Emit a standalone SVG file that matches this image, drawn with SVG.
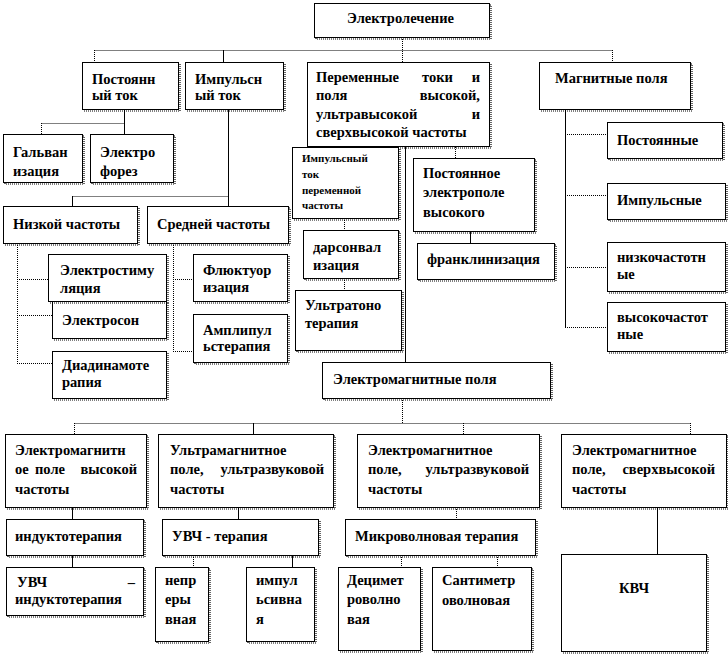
<svg xmlns="http://www.w3.org/2000/svg" width="728" height="663" viewBox="0 0 728 663">
<style>
.bx{fill:#fff;stroke:#000;stroke-width:1}
.sh{fill:none;stroke:#000;stroke-width:1.2;stroke-dasharray:1 1;transform:translate(1.5px,1.5px)}
text{font-family:"Liberation Serif","Times New Roman",serif;font-weight:bold;font-size:14.5px;fill:#000}
.s{font-size:11px}
.e{text-anchor:end}
.m{text-anchor:middle}
#connectors line{stroke:#000;stroke-width:1}
#connectors line.d{stroke-dasharray:1 1}
#connectors line.g{stroke:#777}
</style>
<rect width="728" height="663" fill="#fff"/>
<g id="connectors">
<line class="d" x1="402.5" y1="37" x2="402.5" y2="62"/>
<line class="d" x1="94.5" y1="50.5" x2="612.5" y2="50.5"/>
<line class="d" x1="94.5" y1="50" x2="94.5" y2="62"/>
<line class="d" x1="612.5" y1="50" x2="612.5" y2="62"/>
<line x1="223.5" y1="50" x2="223.5" y2="62"/>
<line x1="124.5" y1="110" x2="124.5" y2="134"/>
<line class="d" x1="41.5" y1="123.5" x2="124.5" y2="123.5"/>
<line class="d" x1="41.5" y1="123" x2="41.5" y2="134"/>
<line x1="228.5" y1="110" x2="228.5" y2="206"/>
<line class="d" x1="72.5" y1="196.5" x2="228.5" y2="196.5"/>
<line x1="72.5" y1="196" x2="72.5" y2="206"/>
<line class="d" x1="17.5" y1="243" x2="17.5" y2="363.5"/>
<line class="d" x1="17" y1="279.5" x2="48" y2="279.5"/>
<line class="d" x1="17" y1="315.5" x2="52" y2="315.5"/>
<line class="d" x1="17" y1="363.5" x2="52" y2="363.5"/>
<line class="d" x1="173.5" y1="243" x2="173.5" y2="351.5"/>
<line class="d" x1="173" y1="279.5" x2="193" y2="279.5"/>
<line class="d" x1="173" y1="351.5" x2="193" y2="351.5"/>
<line class="g" x1="344.5" y1="147" x2="344.5" y2="157"/>
<line class="d" x1="344.5" y1="218" x2="344.5" y2="230"/>
<line class="d" x1="344.5" y1="278" x2="344.5" y2="290"/>
<line class="d" x1="455.5" y1="147" x2="455.5" y2="158"/>
<line x1="470.5" y1="231" x2="470.5" y2="243"/>
<line x1="405.5" y1="147" x2="405.5" y2="362"/>
<line x1="565.5" y1="110" x2="565.5" y2="327.5"/>
<line class="d" x1="565" y1="134.5" x2="607" y2="134.5"/>
<line class="d" x1="565" y1="195.5" x2="607" y2="195.5"/>
<line class="d" x1="565" y1="267.5" x2="607" y2="267.5"/>
<line class="d" x1="565" y1="327.5" x2="607" y2="327.5"/>
<line class="d" x1="402.5" y1="398" x2="402.5" y2="423"/>
<line class="d" x1="74.5" y1="423.5" x2="690.5" y2="423.5"/>
<line class="d" x1="74.5" y1="423" x2="74.5" y2="434"/>
<line x1="253.5" y1="423" x2="253.5" y2="434"/>
<line class="d" x1="463.5" y1="423" x2="463.5" y2="434"/>
<line class="d" x1="690.5" y1="423" x2="690.5" y2="434"/>
<line x1="72.5" y1="507" x2="72.5" y2="519"/>
<line x1="72.5" y1="555" x2="72.5" y2="567"/>
<line x1="238.5" y1="507" x2="238.5" y2="519"/>
<line class="d" x1="193.5" y1="555" x2="193.5" y2="567"/>
<line x1="292.5" y1="555" x2="292.5" y2="567"/>
<line class="d" x1="456.5" y1="507" x2="456.5" y2="519"/>
<line class="d" x1="401.5" y1="555" x2="401.5" y2="567"/>
<line class="d" x1="497.5" y1="555" x2="497.5" y2="567"/>
<line x1="657.5" y1="507" x2="657.5" y2="554"/>
</g>

<g id="n-root"><rect class="sh" x="314.5" y="3.5" width="175" height="34"/><rect class="bx" x="314.5" y="3.5" width="175" height="34"/><text x="347" y="23">Электролечение</text></g>

<g id="n-dc"><rect class="sh" x="82.5" y="62.5" width="96" height="47"/><rect class="bx" x="82.5" y="62.5" width="96" height="47"/><text x="92" y="84">Постоянн</text><text x="92" y="100">ый ток</text></g>
<g id="n-pulse"><rect class="sh" x="185.5" y="62.5" width="98" height="47"/><rect class="bx" x="185.5" y="62.5" width="98" height="47"/><text x="195" y="84">Импульсн</text><text x="195" y="100">ый ток</text></g>
<g id="n-ac"><rect class="sh" x="307.5" y="62.5" width="182" height="84"/><rect class="bx" x="307.5" y="62.5" width="182" height="84"/>
<text x="316" y="82">Переменные</text><text x="422" y="82">токи</text><text class="e" x="480" y="82">и</text>
<text x="316" y="100">поля</text><text class="e" x="480" y="100">высокой,</text>
<text x="316" y="119">ультравысокой</text><text class="e" x="480" y="119">и</text>
<text x="316" y="137">сверхвысокой частоты</text></g>
<g id="n-mag"><rect class="sh" x="539.5" y="62.5" width="151" height="47"/><rect class="bx" x="539.5" y="62.5" width="151" height="47"/><text x="555" y="83">Магнитные поля</text></g>

<g id="n-galv"><rect class="sh" x="3.5" y="134.5" width="79" height="48"/><rect class="bx" x="3.5" y="134.5" width="79" height="48"/><text x="13" y="157">Гальван</text><text x="13" y="176">изация</text></g>
<g id="n-elph"><rect class="sh" x="90.5" y="134.5" width="83" height="48"/><rect class="bx" x="90.5" y="134.5" width="83" height="48"/><text x="100" y="157">Электро</text><text x="100" y="176">форез</text></g>

<g id="n-low"><rect class="sh" x="3.5" y="206.5" width="134" height="37"/><rect class="bx" x="3.5" y="206.5" width="134" height="37"/><text x="13" y="229">Низкой частоты</text></g>
<g id="n-mid"><rect class="sh" x="147.5" y="206.5" width="141" height="37"/><rect class="bx" x="147.5" y="206.5" width="141" height="37"/><text x="157" y="229">Средней частоты</text></g>

<g id="n-elson"><rect class="sh" x="52.5" y="301.5" width="114" height="37"/><rect class="bx" x="52.5" y="301.5" width="114" height="37"/><text x="62" y="325">Электросон</text></g>
<g id="n-elstim"><rect class="sh" x="48.5" y="254.5" width="118" height="47"/><rect class="bx" x="48.5" y="254.5" width="118" height="47"/><text x="60" y="275">Электростиму</text><text x="60" y="293">ляция</text></g>
<g id="n-diad"><rect class="sh" x="52.5" y="351.5" width="114" height="47"/><rect class="bx" x="52.5" y="351.5" width="114" height="47"/><text x="62" y="370">Диадинамоте</text><text x="62" y="387">рапия</text></g>

<g id="n-fluct"><rect class="sh" x="193.5" y="254.5" width="94" height="47"/><rect class="bx" x="193.5" y="254.5" width="94" height="47"/><text x="203" y="275">Флюктуор</text><text x="203" y="292">изация</text></g>
<g id="n-ampl"><rect class="sh" x="193.5" y="314.5" width="94" height="48"/><rect class="bx" x="193.5" y="314.5" width="94" height="48"/><text x="203" y="335">Амплипул</text><text x="203" y="351">ьстерапия</text></g>

<g id="n-pulsevar"><rect class="sh" x="292.5" y="147.5" width="106" height="71"/><rect class="bx" x="292.5" y="147.5" width="106" height="71"/><text class="s" x="302" y="162">Импульсный</text><text class="s" x="302" y="178">ток</text><text class="s" x="302" y="194">переменной</text><text class="s" x="302" y="209">частоты</text></g>
<g id="n-dars"><rect class="sh" x="303.5" y="230.5" width="95" height="48"/><rect class="bx" x="303.5" y="230.5" width="95" height="48"/><text x="313" y="252">дарсонвал</text><text x="313" y="270">изация</text></g>
<g id="n-ultraton"><rect class="sh" x="295.5" y="290.5" width="106" height="60"/><rect class="bx" x="295.5" y="290.5" width="106" height="60"/><text x="305" y="310">Ультратоно</text><text x="305" y="328">терапия</text></g>

<g id="n-efield"><rect class="sh" x="413.5" y="158.5" width="121" height="73"/><rect class="bx" x="413.5" y="158.5" width="121" height="73"/><text x="423" y="178">Постоянное</text><text x="423" y="197">электрополе</text><text x="423" y="217">высокого</text></g>
<g id="n-frank"><rect class="sh" x="417.5" y="243.5" width="137" height="36"/><rect class="bx" x="417.5" y="243.5" width="137" height="36"/><text x="427" y="264">франклинизация</text></g>

<g id="n-m1"><rect class="sh" x="607.5" y="122.5" width="115" height="36"/><rect class="bx" x="607.5" y="122.5" width="115" height="36"/><text x="617" y="145">Постоянные</text></g>
<g id="n-m2"><rect class="sh" x="607.5" y="183.5" width="118" height="36"/><rect class="bx" x="607.5" y="183.5" width="118" height="36"/><text x="617" y="205">Импульсные</text></g>
<g id="n-m3"><rect class="sh" x="607.5" y="242.5" width="118" height="49"/><rect class="bx" x="607.5" y="242.5" width="118" height="49"/><text x="617" y="262">низкочастотн</text><text x="617" y="279">ые</text></g>
<g id="n-m4"><rect class="sh" x="607.5" y="302.5" width="118" height="49"/><rect class="bx" x="607.5" y="302.5" width="118" height="49"/><text x="617" y="322">высокочастот</text><text x="617" y="339">ные</text></g>

<g id="n-emf"><rect class="sh" x="322.5" y="362.5" width="228" height="36"/><rect class="bx" x="322.5" y="362.5" width="228" height="36"/><text x="333" y="384">Электромагнитные поля</text></g>

<g id="n-a"><rect class="sh" x="5.5" y="434.5" width="141" height="73"/><rect class="bx" x="5.5" y="434.5" width="141" height="73"/>
<text x="15" y="455">Электромагнитн</text>
<text x="15" y="474">ое</text><text x="35" y="474">поле</text><text class="e" x="137" y="474">высокой</text>
<text x="15" y="494">частоты</text></g>
<g id="n-b"><rect class="sh" x="158.5" y="434.5" width="175" height="73"/><rect class="bx" x="158.5" y="434.5" width="175" height="73"/>
<text x="170" y="455">Ультрамагнитное</text>
<text x="170" y="474">поле,</text><text class="e" x="324" y="474">ультразвуковой</text>
<text x="170" y="494">частоты</text></g>
<g id="n-c"><rect class="sh" x="357.5" y="434.5" width="182" height="73"/><rect class="bx" x="357.5" y="434.5" width="182" height="73"/>
<text x="368" y="455">Электромагнитное</text>
<text x="368" y="474">поле,</text><text class="e" x="529" y="474">ультразвуковой</text>
<text x="368" y="494">частоты</text></g>
<g id="n-d"><rect class="sh" x="561.5" y="434.5" width="165" height="73"/><rect class="bx" x="561.5" y="434.5" width="165" height="73"/>
<text x="572" y="455">Электромагнитное</text>
<text x="572" y="474">поле,</text><text class="e" x="715" y="474">сверхвысокой</text>
<text x="572" y="494">частоты</text></g>

<g id="n-induct"><rect class="sh" x="6.5" y="519.5" width="137" height="36"/><rect class="bx" x="6.5" y="519.5" width="137" height="36"/><text x="15" y="541">индуктотерапия</text></g>
<g id="n-uhfind"><rect class="sh" x="6.5" y="567.5" width="137" height="48"/><rect class="bx" x="6.5" y="567.5" width="137" height="48"/><text x="17" y="587">УВЧ</text><text class="e" x="135" y="587">–</text><text x="15" y="604">индуктотерапия</text></g>
<g id="n-uhf"><rect class="sh" x="162.5" y="519.5" width="156" height="36"/><rect class="bx" x="162.5" y="519.5" width="156" height="36"/><text x="172" y="541">УВЧ - терапия</text></g>
<g id="n-cont"><rect class="sh" x="155.5" y="567.5" width="53" height="74"/><rect class="bx" x="155.5" y="567.5" width="53" height="74"/><text x="165" y="585">непр</text><text x="165" y="604">еры</text><text x="165" y="624">вная</text></g>
<g id="n-imp"><rect class="sh" x="246.5" y="567.5" width="68" height="74"/><rect class="bx" x="246.5" y="567.5" width="68" height="74"/><text x="256" y="585">импул</text><text x="256" y="604">ьсивна</text><text x="256" y="624">я</text></g>
<g id="n-micro"><rect class="sh" x="345.5" y="519.5" width="190" height="36"/><rect class="bx" x="345.5" y="519.5" width="190" height="36"/><text x="355" y="541">Микроволновая терапия</text></g>
<g id="n-deci"><rect class="sh" x="338.5" y="567.5" width="82" height="83"/><rect class="bx" x="338.5" y="567.5" width="82" height="83"/><text x="347" y="585">Децимет</text><text x="347" y="604">роволно</text><text x="347" y="624">вая</text></g>
<g id="n-centi"><rect class="sh" x="432.5" y="567.5" width="99" height="83"/><rect class="bx" x="432.5" y="567.5" width="99" height="83"/><text x="442" y="585">Сантиметр</text><text x="442" y="605">оволновая</text></g>
<g id="n-ehf"><rect class="sh" x="561.5" y="554.5" width="145" height="97"/><rect class="bx" x="561.5" y="554.5" width="145" height="97"/><text class="m" x="634" y="593">КВЧ</text></g>
</svg>
